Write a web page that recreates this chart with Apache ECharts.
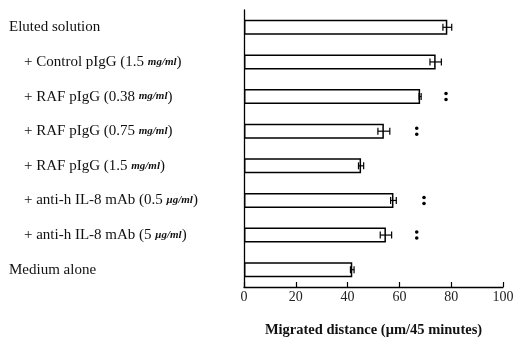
<!DOCTYPE html>
<html><head><meta charset="utf-8">
<script src="https://cdn.jsdelivr.net/npm/echarts@6/dist/echarts.min.js"></script>
<style>html,body{margin:0;padding:0;background:#fff}#c{width:521px;height:344px}</style>
</head><body><div id="c"></div>
<script>
const categories = [
  'Eluted solution',
  '+ Control pIgG (1.5 mg/ml)',
  '+ RAF pIgG (0.38 mg/ml)',
  '+ RAF pIgG (0.75 mg/ml)',
  '+ RAF pIgG (1.5 mg/ml)',
  '+ anti-h IL-8 mAb (0.5 μg/ml)',
  '+ anti-h IL-8 mAb (5 μg/ml)',
  'Medium alone'
];
const indent = [false, true, true, true, true, true, true, false];
const values = [78.5, 74, 68, 54, 45.2, 57.7, 54.8, 41.8];
const errors = [1.7, 2.2, 0.4, 2.3, 1.0, 1.1, 2.2, 0.7];
const sigPos = [null, null, 78, 66.7, null, 69.5, 66.7, null];
const xTicks = [0, 20, 40, 60, 80, 100];

const chart = echarts.init(document.getElementById('c'));
const font = '"Liberation Serif", "DejaVu Serif", serif';
function fmt(v, i) {
  const m = v.match(/^(.*\()([^)]*?)(\s)([mμ]g\/ml)(\))$/);
  let s;
  if (m) {
    s = '{t|' + m[1] + m[2] + m[3] + '}{u|' + m[4] + '}{t|' + m[5] + '}';
  } else {
    s = '{t|' + v + '}';
  }
  return (indent[i] ? '{i| }' : '') + s;
}
chart.setOption({
  animation: false,
  backgroundColor: '#fff',
  grid: {left: 244, top: 10, width: 259, height: 277, containLabel: false},
  xAxis: {
    type: 'value', min: xTicks[0], max: xTicks[xTicks.length - 1], interval: 20,
    axisLine: {show: true, lineStyle: {color: '#000', width: 1.3}},
    axisTick: {show: true, inside: true, length: 5, lineStyle: {color: '#000', width: 1.2}},
    splitLine: {show: false},
    axisLabel: {color: '#222', fontFamily: font, fontSize: 14, margin: 3},
    name: 'Migrated distance (μm/45 minutes)',
    nameLocation: 'middle', nameGap: 36,
    nameTextStyle: {color: '#111', fontFamily: font, fontSize: 14.5, fontWeight: 'bold'}
  },
  yAxis: {
    type: 'category', data: categories, inverse: true,
    axisLine: {show: true, lineStyle: {color: '#000', width: 1.3}},
    axisTick: {show: false},
    axisLabel: {
      align: 'left', margin: 235, color: '#111', fontFamily: font, fontSize: 15,
      formatter: fmt,
      rich: {
        t: {fontFamily: font, fontSize: 15, color: '#111'},
        u: {fontFamily: font, fontSize: 11, color: '#111', fontWeight: 'bold', fontStyle: 'italic'},
        i: {width: 15, fontSize: 15}
      }
    }
  },
  series: [
    {
      type: 'bar', data: values, barWidth: 15,
      itemStyle: {color: '#fff', borderColor: '#000', borderWidth: 1.5}
    },
    {
      type: 'custom',
      data: values.map((v, i) => [v, i, errors[i]]),
      renderItem: (params, api) => {
        const v = api.value(0), c = api.value(1), e = api.value(2);
        const p1 = api.coord([v - e, c]);
        const p2 = api.coord([v + e, c]);
        const h = 3.5;
        const st = {stroke: '#000', lineWidth: 1.2};
        return {type: 'group', children: [
          {type: 'line', shape: {x1: p1[0], y1: p1[1], x2: p2[0], y2: p2[1]}, style: st},
          {type: 'line', shape: {x1: p1[0], y1: p1[1] - h, x2: p1[0], y2: p1[1] + h}, style: st},
          {type: 'line', shape: {x1: p2[0], y1: p2[1] - h, x2: p2[0], y2: p2[1] + h}, style: st}
        ]};
      },
      z: 5
    },
    {
      type: 'custom',
      data: sigPos.map((v, i) => [v, i]).filter(d => d[0] !== null),
      renderItem: (params, api) => {
        const p = api.coord([api.value(0), api.value(1)]);
        return {type: 'group', children: [
          {type: 'circle', shape: {cx: p[0], cy: p[1] - 3, r: 1.8}, style: {fill: '#000'}},
          {type: 'circle', shape: {cx: p[0], cy: p[1] + 3, r: 1.8}, style: {fill: '#000'}}
        ]};
      },
      z: 5
    }
  ]
});
</script>
</body></html>
